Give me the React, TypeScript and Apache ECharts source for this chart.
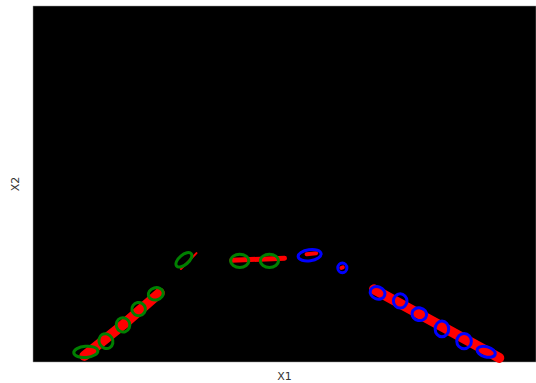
import React, { useEffect, useRef } from "react";
import * as echarts from "echarts";

// ellipses: [cx, cy, width, height, angleDeg]
const greenEllipses: number[][] = [
  [-3.95, 0.2, 0.48, 0.22, 5],
  [-3.55, 0.41, 0.27, 0.3, 30],
  [-3.21, 0.73, 0.27, 0.28, 20],
  [-2.9, 1.04, 0.27, 0.26, 10],
  [-2.56, 1.34, 0.3, 0.24, 15],
  [-2.0, 2.01, 0.38, 0.19, 40],
  [-0.89, 1.99, 0.36, 0.26, 0],
  [-0.3, 1.99, 0.36, 0.26, 0],
];
const blueEllipses: number[][] = [
  [0.5, 2.1, 0.46, 0.22, 8],
  [1.15, 1.85, 0.18, 0.19, 0],
  [1.85, 1.36, 0.3, 0.24, -20],
  [2.3, 1.2, 0.27, 0.28, 0],
  [2.68, 0.94, 0.29, 0.25, -10],
  [3.13, 0.65, 0.27, 0.31, 0],
  [3.57, 0.41, 0.29, 0.3, 0],
  [4.01, 0.2, 0.37, 0.2, -15],
];
const redLeft: number[][] = [[-3.98, 0.12], [-3.2, 0.74], [-2.48, 1.36]];
const redTilt: number[][] = [[-2.06, 1.83], [-1.75, 2.14]];
const redFlat: number[][] = [[-1.05, 2.0], [0.0, 2.04]];
const redBlue1: number[][] = [[0.44, 2.12], [0.63, 2.14]];
const redBlue2: number[][] = [[1.13, 1.85], [1.16, 1.86]];
const redRight: number[][] = [[1.78, 1.43], [3.0, 0.77], [4.27, 0.08]];

const xLabel = "X1";
const yLabel = "X2";

function ellipseSeries(data: number[][], color: string) {
  return {
    type: "custom",
    data,
    clip: true,
    z: 5,
    renderItem: (params: any, api: any) => {
      const c = api.coord([api.value(0), api.value(1)]);
      const s = api.size([api.value(2), api.value(3)]);
      return {
        type: "ellipse",
        x: c[0],
        y: c[1],
        rotation: (api.value(4) * Math.PI) / 180,
        shape: { cx: 0, cy: 0, rx: s[0] / 2, ry: s[1] / 2 },
        style: { fill: "none", stroke: color, lineWidth: 3 },
      };
    },
  };
}

function redSeries(data: number[][], width: number) {
  return {
    type: "line",
    data,
    symbol: "none",
    z: 2,
    lineStyle: { color: "#ff0000", width, cap: "round" },
  };
}

export default function App() {
  const ref = useRef<HTMLDivElement>(null);
  useEffect(() => {
    const chart = echarts.init(ref.current!, undefined, { renderer: "svg" });
    chart.setOption({
      animation: false,
      backgroundColor: "#ffffff",
      grid: {
        left: 33,
        right: 0,
        top: 6,
        bottom: 21,
        outerBoundsMode: "none",
        containLabel: false,
        show: true,
        backgroundColor: "#000000",
        borderColor: "#999999",
        borderWidth: 0.5,
      },
      xAxis: {
        type: "value",
        min: -5,
        max: 5,
        name: xLabel,
        nameLocation: "middle",
        nameGap: 9,
        nameTextStyle: { fontFamily: "DejaVu Sans", fontSize: 11, color: "#333" },
        axisLine: { show: false },
        axisTick: { show: false },
        axisLabel: { show: false },
        splitLine: { show: false },
      },
      yAxis: {
        type: "value",
        min: 0,
        max: 7,
        name: yLabel,
        nameLocation: "middle",
        nameGap: 12,
        nameTextStyle: { fontFamily: "DejaVu Sans", fontSize: 11, color: "#333" },
        axisLine: { show: false },
        axisTick: { show: false },
        axisLabel: { show: false },
        splitLine: { show: false },
      },
      series: [
        redSeries(redLeft, 10),
        redSeries(redTilt, 2),
        redSeries(redFlat, 5),
        redSeries(redBlue1, 4),
        redSeries(redBlue2, 4),
        redSeries(redRight, 10),
        ellipseSeries(greenEllipses, "#008000"),
        ellipseSeries(blueEllipses, "#0000ff"),
      ],
    });
    return () => chart.dispose();
  }, []);
  return (
    <div
      ref={ref}
      style={{ position: "fixed", left: 0, top: 0, width: 536, height: 383 }}
    />
  );
}
